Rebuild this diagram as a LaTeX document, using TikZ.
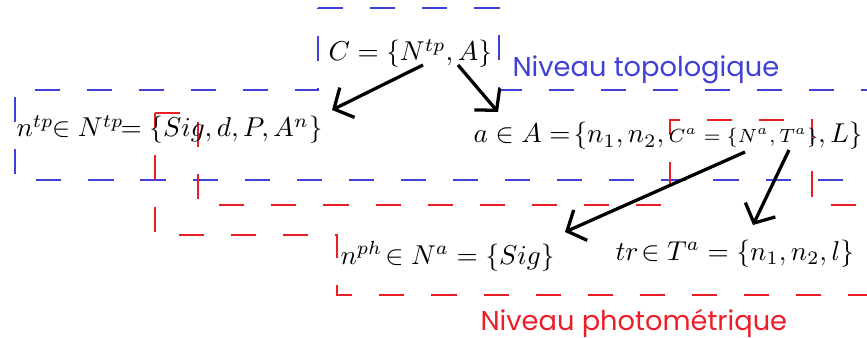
\documentclass[tikz,border=0pt]{standalone}
\usepackage{fontspec}
\newfontfamily\levelfont{Poppins}
\usetikzlibrary{arrows.meta,positioning,calc}
\definecolor{topoblue}{RGB}{64,64,215}
\definecolor{photored}{RGB}{235,30,40}

\begin{document}
\begin{tikzpicture}[x=0.3667pt, y=-0.3667pt,
    formula/.style={inner sep=0pt, anchor=base west, font=\normalsize},
    level/.style={inner sep=0pt, anchor=base west, font=\levelfont\fontsize{10}{12}\selectfont},
    outline/.style={line width=0.73pt, dash pattern=on 9.2pt off 9.9pt},
    link/.style={line width=1.2pt, -{Straight Barb[length=5.4pt,width=12.2pt]}}
]
\useasboundingbox (0,0) rectangle (867,338);
% contours des deux niveaux
\draw[outline, topoblue] (318,8) -- (499,8) -- (499,90) -- (885,90) -- (885,180) -- (15,180) -- (15,90) -- (318,90) -- cycle;
\draw[outline, photored] (155,113) -- (198,113) -- (198,205) -- (670,205) -- (670,120) -- (812,120) -- (812,205) -- (885,205) -- (885,295) -- (337,295) -- (337,235) -- (155,235) -- cycle;
% formules
\node[formula] (C) at (328,61) {$C=\{N^{tp},A\}$};
\node[formula] (ntp) at (16,137) {$n^{tp}\mkern-6mu\in N^{tp}\mkern-7mu=\{Sig,d,P,A^n\}$};
\node[formula] (a) at (473,143) {$a\in A=\!\{n_1,n_2,\mbox{\scriptsize$C^a=\{N^a,T^a\}$},L\}$};
\node[formula] (nph) at (340,264) {$n^{ph}\!\in N^a=\{Sig\}$};
\node[formula] (tr) at (615,260) {$tr\!\in T^a=\{n_1,n_2,l\}$};
% niveaux
\node[level, text=topoblue] (topo) at (512,77) {Niveau topologique};
\node[level, text=photored] (photo) at (480,330) {Niveau photométrique};
% liens
\draw[link] ([shift={(95,4)}]C.base west) -- ([shift={(316,-27)}]ntp.base west);
\draw[link] ([shift={(130,4)}]C.base west) -- ([shift={(25,-31)}]a.base west);
\draw[link] ([shift={(272,9)}]a.base west) -- ([shift={(225,-32)}]nph.base west);
\draw[link] ([shift={(316,7)}]a.base west) -- ([shift={(138,-35)}]tr.base west);
\end{tikzpicture}
\end{document}
